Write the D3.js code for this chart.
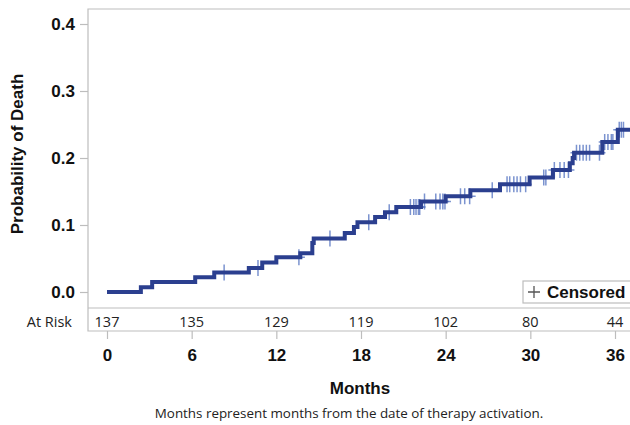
<!DOCTYPE html>
<html>
<head>
<meta charset="utf-8">
<script src="https://cdn.jsdelivr.net/npm/d3@7/dist/d3.min.js"></script>
<style>
  html, body { margin: 0; padding: 0; background: #fff; }
  svg { display: block; }
</style>
</head>
<body>
<svg id="chart" width="630" height="425"></svg>
<script>
// Cumulative probability of death (1 - KM survival): step start month and level
const stepMonths = [0, 2.4, 3.2, 6.25, 7.6, 10.05, 11.0, 12.0, 13.7, 14.55, 14.65,
  16.85, 17.5, 17.75, 19.0, 19.7, 20.5, 22.25, 24.0, 25.75, 27.85, 29.95, 31.6,
  32.8, 33.0, 33.1, 35.1, 36.2];
const stepProb = [0, 0.007, 0.015, 0.022, 0.029, 0.036, 0.044, 0.052, 0.058, 0.073, 0.080,
  0.088, 0.097, 0.104, 0.112, 0.119, 0.127, 0.135, 0.143, 0.152, 0.161, 0.171, 0.182,
  0.192, 0.200, 0.208, 0.224, 0.242];
const lastFollowUp = 37.3;

// Censoring times (months)
const censorMonths = [8.3, 10.7, 13.6, 15.8, 18.55, 20.0, 21.5, 21.74, 21.9, 22.07, 22.16,
  22.5, 23.3, 23.6, 23.8, 23.95, 25.05, 25.35, 25.7, 27.3, 28.35, 28.54, 28.83, 29.06,
  29.3, 29.67, 30.95, 31.1, 31.7, 32.1, 32.4, 32.7, 33.27, 33.5, 33.74, 33.97, 34.2,
  34.9, 35.27, 35.5, 35.74, 35.85, 36.3, 36.45, 36.6];

// Number at risk table
const riskMonths = [0, 6, 12, 18, 24, 30, 36];
const riskCounts = [137, 135, 129, 119, 102, 80, 44];

const yTicks = [0, 0.1, 0.2, 0.3, 0.4];

const svg = d3.select("#chart");
const frame = { left: 88, right: 630, top: 9, bottom: 308, riskBottom: 331 };
const x = d3.scaleLinear().domain([0, 36]).range([107, 615]);
const y = d3.scaleLinear().domain([0, 0.4]).range([292, 24]);

const lineColor = "#2b3f8f";
const censorColor = "#4f6fbf";
const frameColor = "#bdbdbd";
const boldFont = "'Liberation Sans', Arial, sans-serif";
const lightFont = "'Open Sans', 'Noto Sans', sans-serif";

// Plot frame (top, left, bottom) and the at-risk strip
svg.append("path")
  .attr("d", `M${frame.right},${frame.top}H${frame.left}V${frame.riskBottom}H${frame.right}M${frame.left},${frame.bottom}H${frame.right}`)
  .attr("fill", "none").attr("stroke", frameColor).attr("stroke-width", 1.2);

svg.append("clipPath").attr("id", "plotClip")
  .append("rect").attr("x", frame.left).attr("y", frame.top)
  .attr("width", frame.right - frame.left).attr("height", frame.bottom - frame.top);

const plot = svg.append("g").attr("clip-path", "url(#plotClip)");

// Step curve
const pts = stepMonths.map((m, i) => [m, stepProb[i]]);
pts.push([lastFollowUp, stepProb[stepProb.length - 1]]);
const line = d3.line().x(d => x(d[0])).y(d => y(d[1])).curve(d3.curveStepAfter);

// Censor marks placed on the curve
const levelAt = m => stepProb[d3.bisectRight(stepMonths, m) - 1];
plot.append("g").selectAll("path.censor")
  .data(censorMonths).join("path")
  .attr("class", "censor")
  .attr("d", m => {
    const cx = x(m), cy = y(levelAt(m));
    return `M${cx},${cy - 8}V${cy + 8}M${cx - 6},${cy}H${cx + 6}`;
  })
  .attr("stroke", censorColor).attr("stroke-opacity", 0.75)
  .attr("stroke-width", 1.5).attr("fill", "none");

plot.append("path").datum(pts)
  .attr("d", line)
  .attr("fill", "none").attr("stroke", lineColor)
  .attr("stroke-width", 4).attr("stroke-linejoin", "miter");

// Y axis
const yAxis = svg.append("g").attr("transform", `translate(${frame.left},0)`)
  .call(d3.axisLeft(y).tickValues(yTicks).tickFormat(d3.format(".1f")).tickSize(8).tickPadding(5));
yAxis.select(".domain").remove();
yAxis.selectAll(".tick line").attr("stroke", frameColor).attr("stroke-width", 1.2);
yAxis.selectAll(".tick text").attr("fill", "#111")
  .style("font-family", boldFont).style("font-weight", "bold").style("font-size", "17px");

svg.append("text")
  .attr("transform", `translate(23,154) rotate(-90)`)
  .attr("text-anchor", "middle")
  .style("font-family", boldFont).style("font-weight", "bold").style("font-size", "17px")
  .attr("fill", "#111").text("Probability of Death");

// X axis below the at-risk strip
const xAxis = svg.append("g").attr("transform", `translate(0,${frame.riskBottom})`)
  .call(d3.axisBottom(x).tickValues(riskMonths).tickSize(8).tickPadding(10));
xAxis.select(".domain").remove();
xAxis.selectAll(".tick line").attr("stroke", frameColor).attr("stroke-width", 1.2);
xAxis.selectAll(".tick text").attr("fill", "#111")
  .style("font-family", boldFont).style("font-weight", "bold").style("font-size", "17px");

svg.append("text")
  .attr("x", 360).attr("y", 394).attr("text-anchor", "middle")
  .style("font-family", boldFont).style("font-weight", "bold").style("font-size", "17px")
  .attr("fill", "#111").text("Months");

svg.append("text")
  .attr("x", 349).attr("y", 418).attr("text-anchor", "middle")
  .style("font-family", lightFont).style("font-size", "13.4px")
  .attr("fill", "#222").text("Months represent months from the date of therapy activation.");

// At-risk numbers
svg.append("text")
  .attr("x", 72).attr("y", 327).attr("text-anchor", "end")
  .style("font-family", lightFont).style("font-size", "14.5px")
  .attr("fill", "#222").text("At Risk");
svg.append("g").selectAll("text")
  .data(riskMonths).join("text")
  .attr("x", d => x(d)).attr("y", 327).attr("text-anchor", "middle")
  .style("font-family", lightFont).style("font-size", "14.5px")
  .attr("fill", "#222").text((d, i) => riskCounts[i]);

// Legend
const legend = svg.append("g");
legend.append("rect")
  .attr("x", 523).attr("y", 281).attr("width", 112).attr("height", 22)
  .attr("fill", "#fff").attr("stroke", frameColor).attr("stroke-width", 1.2);
legend.append("path")
  .attr("d", "M528,292H540M534,286V298")
  .attr("stroke", "#555").attr("stroke-width", 1.3);
legend.append("text")
  .attr("x", 547).attr("y", 298)
  .style("font-family", boldFont).style("font-weight", "bold").style("font-size", "17px")
  .attr("fill", "#111").text("Censored");
</script>
</body>
</html>
